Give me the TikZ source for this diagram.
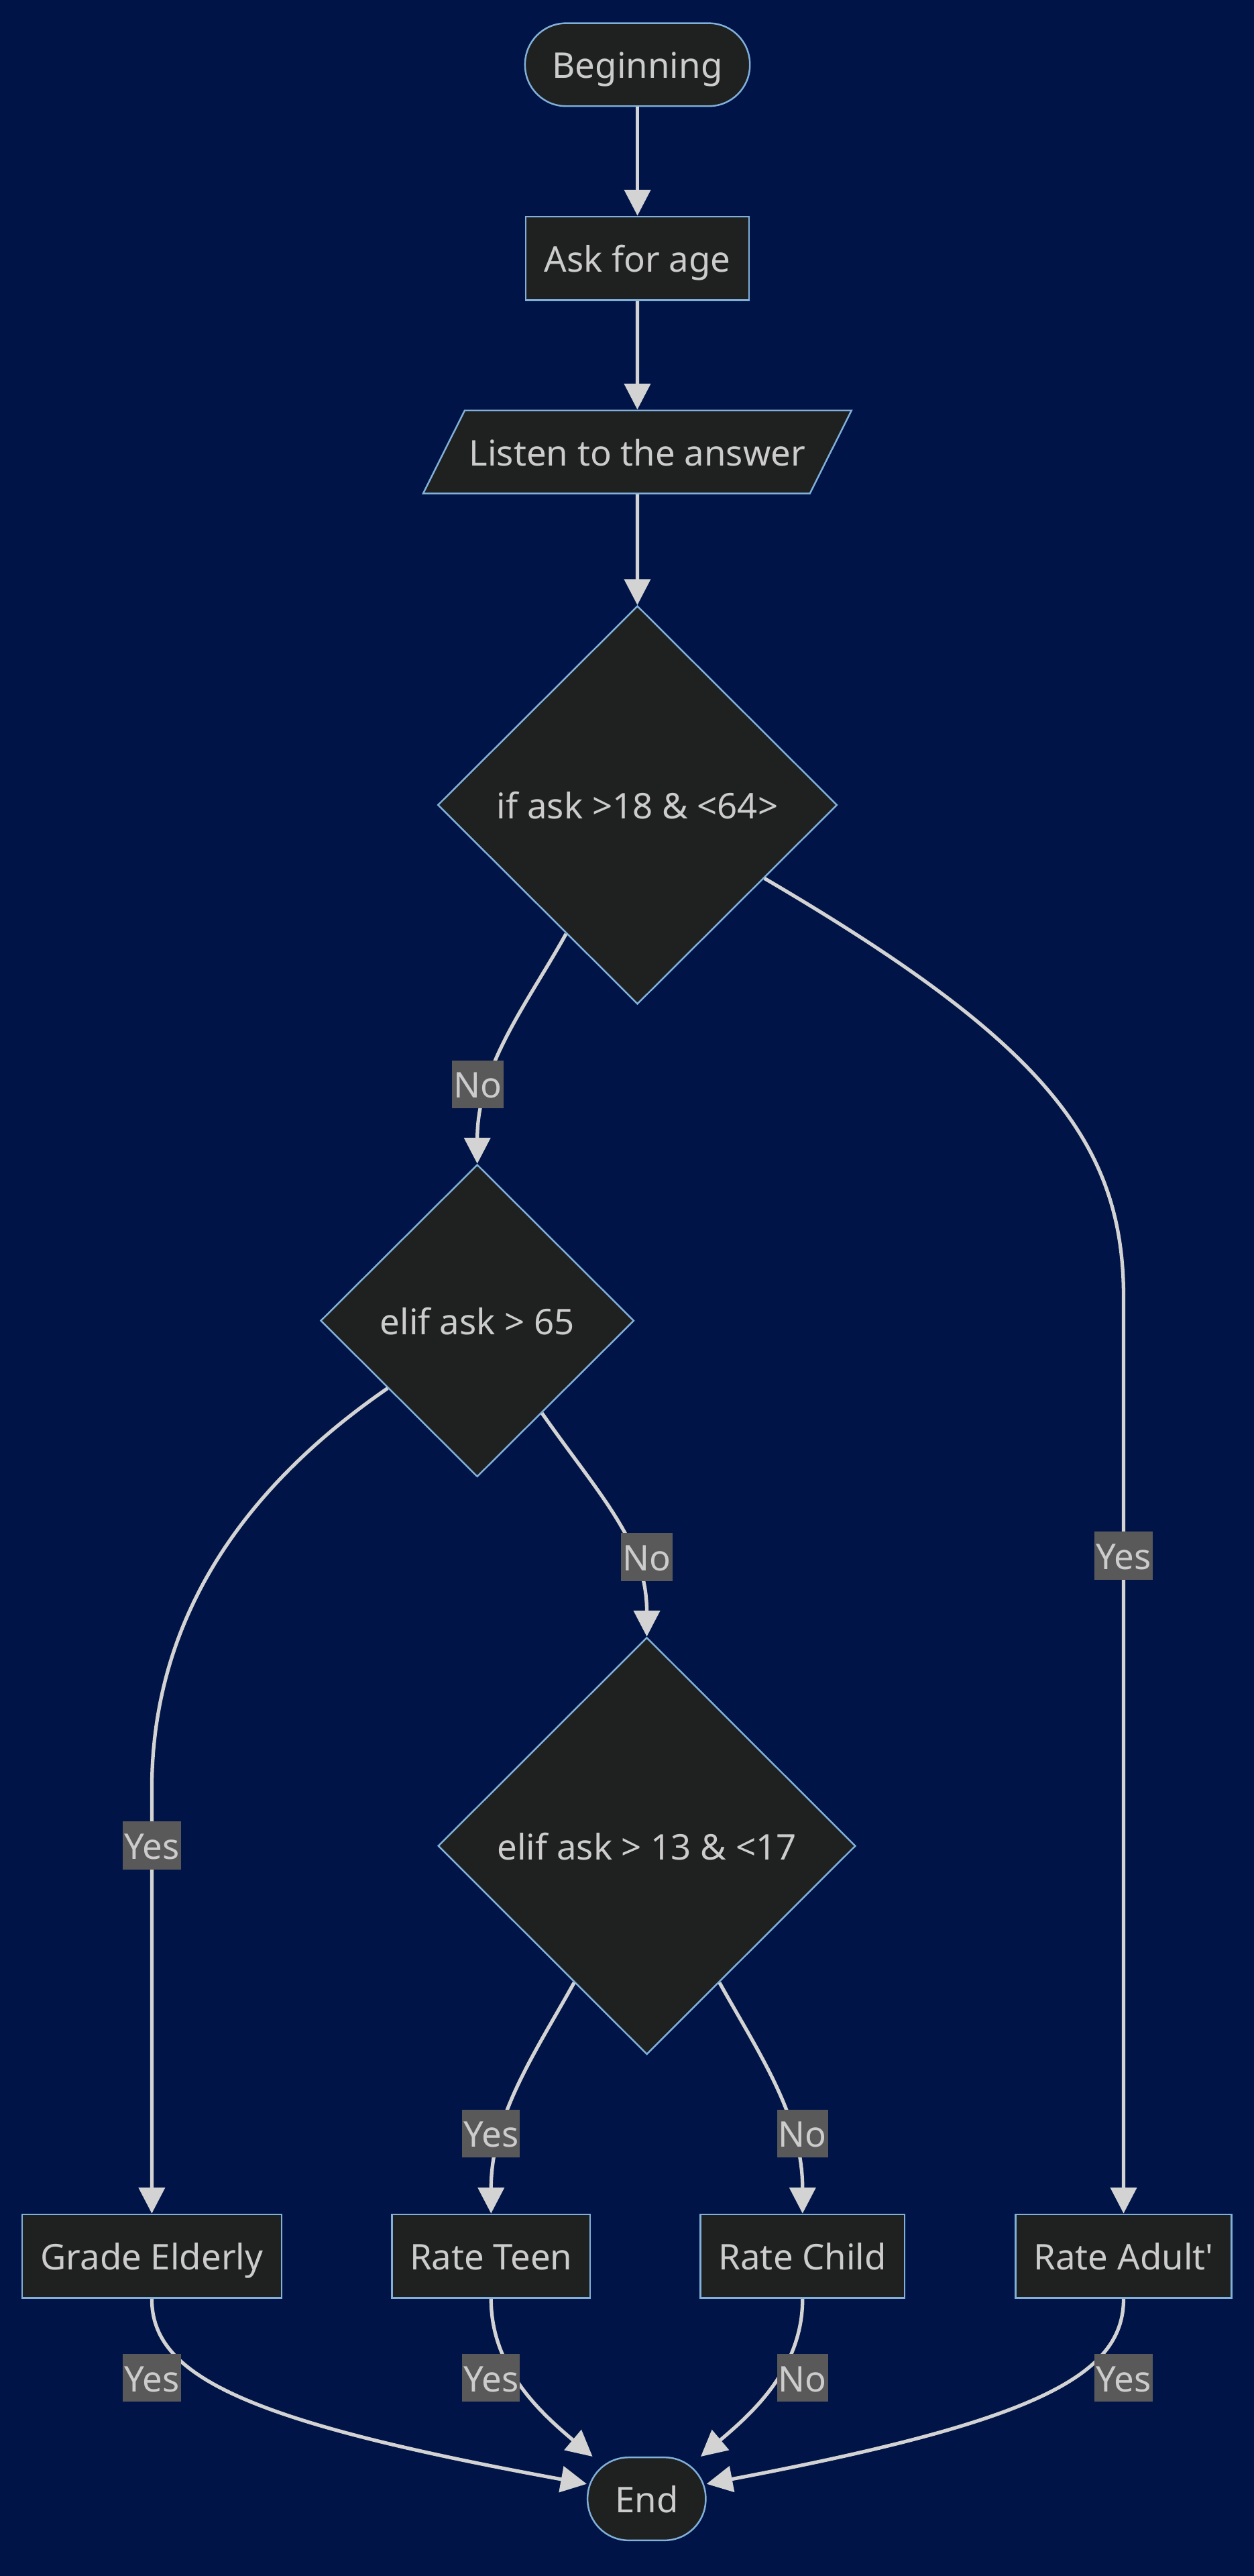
\documentclass[tikz,border=0pt]{standalone}
\usepackage{fontspec}
\setmainfont{Noto Sans}
\usetikzlibrary{calc}
\usetikzlibrary{arrows.meta}
\usetikzlibrary{shapes.geometric}

\definecolor{bgnavy}{HTML}{001447}
\definecolor{boxfill}{HTML}{1F2020}
\definecolor{boxline}{HTML}{81B1DB}
\definecolor{txtgray}{HTML}{CCCCCC}
\definecolor{linegray}{HTML}{D3D3D3}
\definecolor{lblgray}{HTML}{595959}
\newcommand{\dpx}{0.024476cm}

\begin{document}
\begin{tikzpicture} [x=\dpx, y=-\dpx,
  box/.style={draw=boxline, fill=boxfill, text=txtgray, line width=0.7pt, font=\fontsize{15}{18}\selectfont, text height=16pt, text depth=4.4pt, inner sep=0pt, minimum height=51*\dpx},
  term/.style={box, rectangle, rounded corners=25*\dpx, minimum height=50.5*\dpx},
  proc/.style={box, rectangle},
  io/.style={box, trapezium, trapezium left angle=63.4, trapezium right angle=116.6, trapezium stretches body=true, minimum height=0pt, inner ysep=7.42pt},
  cond/.style={box, diamond},
  lbl/.style={fill=lblgray, text=txtgray, font=\fontsize{15}{18}\selectfont, text height=16pt, text depth=4.4pt, inner xsep=0.6pt, inner ysep=0pt},
  arr/.style={draw=linegray, line width=1.5pt, -{Triangle[length=11pt, width=11pt]}}]
\fill[bgnavy] (0,0) rectangle (764,1569);
\useasboundingbox (0,0) rectangle (764,1569);

\node[term, minimum width=137*\dpx] (beg) at (388.4,39.4) {Beginning};
\node[proc, minimum width=136*\dpx] (ask) at (388.4,157.4) {Ask for age};
\node[io, minimum width=261*\dpx] (lis) at (388.3,275.3) {Listen to the answer};
\node[cond, minimum width=243.4*\dpx, minimum height=242.6*\dpx] (d1) at (388.4,490.3) {if ask >18 \& <64>};
\node[cond, minimum width=191*\dpx, minimum height=190.2*\dpx] (d2) at (290.8,804.4) {elif ask > 65};
\node[cond, minimum width=254.4*\dpx, minimum height=254*\dpx] (d3) at (394.1,1124.3) {elif ask > 13 \& <17};

\node[proc, minimum width=158*\dpx] (ge) at (92.5,1374.2) {Grade Elderly};
\node[proc, minimum width=120.8*\dpx] (rt) at (299.2,1374.2) {Rate Teen};
\node[proc, minimum width=124.3*\dpx] (rc) at (489,1374.2) {Rate Child};
\node[proc, minimum width=131.6*\dpx] (ra) at (684.6,1374.2) {Rate Adult\textquotesingle};
\node[term, minimum width=72*\dpx] (en) at (394,1522) {End};

\draw[arr] (beg) -- (ask);
\draw[arr] (ask) -- (lis);
\draw[arr] (lis) -- (d1);

\draw[arr] (d1.241) .. controls +(-24,43) and +(0,-59) .. (d2.north) node[lbl] at (291.1,660.5) {No};
\draw[arr] (d1.-30) .. controls +(169,99) and +(0,-95) .. (684.6,790) -- (ra.north) node[lbl] at (684.6,947.5) {Yes};
\draw[arr] (d2.217) .. controls +(-87,60) and +(0,-105) .. (92.5,1090) -- (ge.north) node[lbl] at (92.5,1124) {Yes};
\draw[arr] (d2.-55) .. controls +(35,50) and +(0,-57) .. (d3.north) node[lbl] at (394.1,948.2) {No};
\draw[arr] (d3.242) .. controls +(-24,43) and +(0,-59) .. (rt.north) node[lbl] at (299.2,1299.5) {Yes};
\draw[arr] (d3.-62) .. controls +(24,43) and +(0,-59) .. (rc.north) node[lbl] at (489,1299.5) {No};

\draw[arr] (ge.south) .. controls +(0,47) and +(-208,-38) .. (en.166) node[lbl] at (92.5,1448.3) {Yes};
\draw[arr] (rt.south) .. controls +(0,42) and +(-32,-27) .. (en.142) node[lbl] at (299.2,1448.3) {Yes};
\draw[arr] (rc.south) .. controls +(0,42) and +(32,-27) .. (en.38) node[lbl] at (489,1448.3) {No};
\draw[arr] (ra.south) .. controls +(0,47) and +(200,-38) .. (en.14) node[lbl] at (684.6,1448.3) {Yes};

\end{tikzpicture}
\end{document}
